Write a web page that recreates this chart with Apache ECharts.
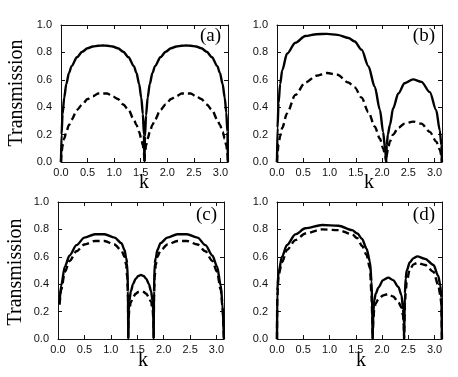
<!DOCTYPE html>
<html>
<head>
<meta charset="utf-8">
<script src="https://cdn.jsdelivr.net/npm/echarts@6/dist/echarts.min.js"></script>
<style>
  html, body { margin: 0; padding: 0; background: #fff; }
  #chart { width: 458px; height: 377px; }
</style>
</head>
<body>
<div id="chart"></div>
<script>
// ---- data ----
// panel (a)
const kA = [0, 0.01, 0.03, 0.06, 0.1, 0.15, 0.2, 0.3, 0.4, 0.5, 0.6, 0.7, 0.79, 0.87, 0.97, 1.07, 1.17, 1.27, 1.37, 1.42, 1.47, 1.51, 1.54, 1.56, 1.57,
  1.58, 1.6, 1.63, 1.67, 1.72, 1.77, 1.87, 1.97, 2.07, 2.17, 2.27, 2.36, 2.44, 2.54, 2.64, 2.74, 2.84, 2.94, 2.99, 3.04, 3.08, 3.11, 3.13, 3.14]
const solidA = [0, .2, .35, .47, .57, .65, .70, .765, .805, .83, .843, .849, .85, .849, .843, .83, .805, .765, .70, .65, .57, .47, .35, .2, 0,
  .19, .34, .47, .57, .65, .70, .765, .805, .83, .843, .849, .85, .849, .843, .83, .805, .765, .70, .65, .57, .47, .36, .22, 0]
const dashedA = [0, .07, .12, .17, .22, .27, .31, .38, .42, .46, .48, .5, .5, .5, .48, .46, .42, .38, .31, .27, .22, .17, .12, .07, 0,
  .07, .12, .17, .22, .27, .31, .38, .42, .46, .48, .5, .5, .5, .48, .46, .42, .38, .31, .27, .22, .17, .12, .07, 0]

// panel (b)
const kB = [0, 0.01, 0.03, 0.06, 0.1, 0.19, 0.35, 0.54, 0.75, 0.95, 1.15, 1.36, 1.48, 1.61, 1.74, 1.86, 1.96, 2.02, 2.06, 2.08,
  2.09, 2.11, 2.15, 2.21, 2.31, 2.43, 2.59, 2.75, 2.91, 3.03, 3.1, 3.13, 3.14]
const solidB = [0, .25, .43, .57, .67, .79, .87, .92, .933, .935, .928, .905, .88, .82, .70, .55, .38, .22, .09, 0,
  .12, .2, .27, .39, .5, .575, .603, .585, .51, .38, .23, .12, 0]
const dashedB = [0, .07, .13, .19, .25, .355, .49, .58, .63, .65, .637, .58, .545, .47, .365, .26, .17, .10, .05, 0,
  .05, .09, .15, .2, .25, .28, .295, .28, .22, .15, .09, .05, 0]

// panel (c)
const kC = [0.03, 0.06, 0.13, 0.22, 0.35, 0.5, 0.7, 0.88, 1.07, 1.2, 1.26, 1.29, 1.31, 1.325, 1.33,
  1.335, 1.35, 1.38, 1.42, 1.47, 1.52, 1.57, 1.62, 1.67, 1.72, 1.76, 1.79, 1.805, 1.81,
  1.817, 1.83, 1.85, 1.88, 1.94, 2.07, 2.26, 2.44, 2.64, 2.79, 2.92, 3.01, 3.08, 3.11, 3.14]
const solidC = [.27, .39, .53, .61, .685, .74, .765, .765, .74, .70, .65, .59, .55, .35, 0,
  .2, .28, .35, .40, .44, .46, .467, .46, .44, .40, .35, .28, .2, 0,
  .35, .55, .59, .65, .70, .74, .765, .765, .74, .685, .61, .53, .39, .27, 0]
const dashedC = [.25, .36, .49, .57, .64, .69, .715, .715, .69, .645, .60, .54, .45, .3, 0,
  .15, .22, .27, .305, .33, .343, .346, .343, .33, .305, .27, .22, .15, 0,
  .3, .45, .54, .60, .645, .69, .715, .715, .69, .64, .57, .49, .36, .25, 0]

// panel (d)
const kD = [0, 0.005, 0.03, 0.095, 0.19, 0.35, 0.54, 0.86, 1.17, 1.43, 1.53, 1.62, 1.705, 1.77, 1.80, 1.815, 1.82,
  1.83, 1.835, 1.85, 1.88, 1.93, 2.02, 2.12, 2.21, 2.31, 2.37, 2.40, 2.415, 2.42,
  2.43, 2.435, 2.45, 2.47, 2.53, 2.6, 2.67, 2.82, 2.98, 3.07, 3.11, 3.13, 3.14]
const solidD = [0, .35, .49, .60, .686, .764, .808, .832, .827, .795, .77, .73, .66, .565, .42, .2, 0,
  0, .2, .28, .33, .375, .43, .448, .43, .38, .32, .22, .12, 0,
  0, .33, .44, .50, .56, .59, .603, .585, .54, .46, .39, .30, 0]
const dashedD = [0, .3, .47, .56, .65, .722, .77, .80, .795, .764, .735, .68, .613, .516, .32, .15, 0,
  0, .15, .21, .26, .29, .318, .328, .31, .27, .23, .17, .1, 0,
  0, .25, .34, .42, .51, .545, .555, .54, .49, .394, .32, .25, 0]

const xTicks = [0, 0.5, 1, 1.5, 2, 2.5, 3]
const yTicks = [0, 0.2, 0.4, 0.6, 0.8, 1.0]
const tags = ['(a)', '(b)', '(c)', '(d)']
const yTitle = 'Transmission'
const xTitle = 'k'

// ---- layout ----
const panels = [
  { k: kA, solid: solidA, dashed: dashedA },
  { k: kB, solid: solidB, dashed: dashedB },
  { k: kC, solid: solidC, dashed: dashedC },
  { k: kD, solid: solidD, dashed: dashedD }
]
const boxes = [
  { left: 61, right: 230, top: 25, height: 137 },
  { left: 277, right: 16, top: 25, height: 137 },
  { left: 58, right: 234, top: 202, height: 137 },
  { left: 277, right: 16, top: 202, height: 137 }
]
const tagPos = [[221, 27], [435, 27], [217, 206], [435, 206]]
const kPos = [[144, 183], [369, 183], [143, 361], [361, 361]]
const titlePos = [[17, 93], [16, 272]]

const ink = '#111'
const serif = '"Liberation Serif", "DejaVu Serif", serif'
const sans = '"Liberation Sans", Arial, sans-serif'

let grids = [], xAxes = [], yAxes = [], series = [], graphics = []

panels.forEach((p, i) => {
  grids.push(Object.assign({ containLabel: false }, boxes[i]))

  let lineCfg = { show: true, onZero: false, lineStyle: { color: ink, width: 1 } }
  let tickCfg = { show: true, inside: true, length: 4, lineStyle: { color: ink, width: 1 } }

  let xBase = {
    type: 'value', gridIndex: i, min: 0, max: Math.PI, interval: 0.5,
    axisLine: lineCfg, axisTick: tickCfg, splitLine: { show: false }
  }
  xAxes.push(Object.assign({}, xBase, {
    position: 'bottom',
    axisLabel: {
      margin: 5, color: ink, fontSize: 11, fontFamily: sans, showMaxLabel: false,
      formatter: v => xTicks.some(t => Math.abs(t - v) < 1e-6) ? v.toFixed(1) : ''
    }
  }))
  xAxes.push(Object.assign({}, xBase, { position: 'top', axisLabel: { show: false } }))

  let yBase = {
    type: 'value', gridIndex: i, min: 0, max: 1, interval: 0.2,
    axisLine: lineCfg, axisTick: tickCfg, splitLine: { show: false }
  }
  yAxes.push(Object.assign({}, yBase, {
    position: 'left',
    axisLabel: {
      margin: 9, color: ink, fontSize: 11, fontFamily: sans,
      formatter: v => yTicks.some(t => Math.abs(t - v) < 1e-6) ? v.toFixed(1) : ''
    }
  }))
  yAxes.push(Object.assign({}, yBase, { position: 'right', axisLabel: { show: false } }))

  let lineSeries = (vals, dashed) => ({
    type: 'line',
    xAxisIndex: 2 * i,
    yAxisIndex: 2 * i,
    data: p.k.map((k, j) => [k, vals[j]]),
    showSymbol: false,
    symbol: 'none',
    smooth: 0.3,
    smoothMonotone: 'x',
    clip: true,
    lineStyle: { color: '#000', width: 2.4, type: dashed ? [7, 4] : 'solid' },
    z: dashed ? 3 : 4
  })
  series.push(lineSeries(p.solid, false))
  series.push(lineSeries(p.dashed, true))

  graphics.push({
    type: 'text', x: tagPos[i][0], y: tagPos[i][1],
    style: { text: tags[i], fill: '#000', font: '19px ' + serif, textAlign: 'right', textVerticalAlign: 'top' }
  })
  graphics.push({
    type: 'text', x: kPos[i][0], y: kPos[i][1],
    style: { text: xTitle, fill: '#000', font: '20px ' + serif, textAlign: 'center', textVerticalAlign: 'middle' }
  })
})

titlePos.forEach(([x, y]) => {
  graphics.push({
    type: 'text', x, y, rotation: Math.PI / 2,
    style: { text: yTitle, fill: '#000', font: '20px ' + serif, textAlign: 'center', textVerticalAlign: 'middle' }
  })
})

let myChart = echarts.init(document.getElementById('chart'), null, { renderer: 'canvas' })
myChart.setOption({
  animation: false,
  backgroundColor: '#fff',
  grid: grids,
  xAxis: xAxes,
  yAxis: yAxes,
  series,
  graphic: graphics
})
</script>
</body>
</html>
